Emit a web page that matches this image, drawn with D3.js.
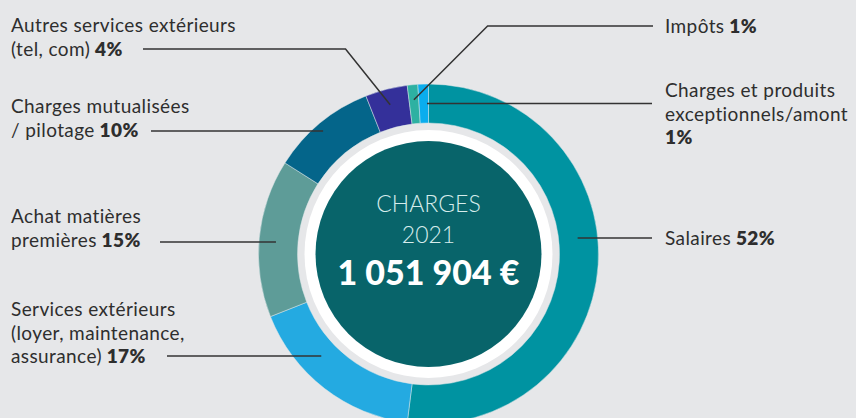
<!DOCTYPE html>
<html>
<head>
<meta charset="utf-8">
<script src="https://cdn.jsdelivr.net/npm/d3@7"></script>
<style>
  body { margin: 0; background: #e6e7e9; }
  svg { display: block; }
</style>
</head>
<body>
<svg id="chart" width="856" height="418"></svg>
<script>
// slices in clockwise order from 12 o'clock
const categories = ["Salaires", "Services extérieurs", "Achat matières premières",
  "Charges mutualisées / pilotage", "Autres services extérieurs", "Impôts",
  "Charges et produits exceptionnels/amont"];
const shares = [52, 17, 15, 10, 4, 1, 1];
const colors = ["#0093a1", "#24aae1", "#5e9c98", "#04658a", "#34309a", "#2db1a2", "#0aadee"];
const totalLabel = "1 051 904 €";

// label text: lines, last line gets the bold value
const labelLines = [
  ["Salaires"],
  ["Services extérieurs", "(loyer, maintenance,", "assurance)"],
  ["Achat matières", "premières"],
  ["Charges mutualisées", "/ pilotage"],
  ["Autres services extérieurs", "(tel, com)"],
  ["Impôts"],
  ["Charges et produits", "exceptionnels/amont", ""]
];

const svg = d3.select("#chart");
const W = 856, H = 418;
const cx = 428.5, cy = 254;
const rOuter = 170, rInner = 131;
const font = "'Source Sans Pro', Lato, 'Noto Sans', sans-serif";
const textColor = "#2e2e2e";

svg.append("rect").attr("width", W).attr("height", H).attr("fill", "#e6e7e9");

let pie = d3.pie().sort(null).value(d => d);
let arcs = pie(shares);
let arc = d3.arc().innerRadius(rInner).outerRadius(rOuter);

let g = svg.append("g").attr("transform", `translate(${cx},${cy})`);

g.selectAll("path.slice")
  .data(arcs)
  .enter()
  .append("path")
  .attr("class", "slice")
  .attr("d", arc)
  .attr("fill", (d, i) => colors[i])
  .attr("stroke", "#d9e4e6")
  .attr("stroke-width", 0.5);

// white ring + dark centre disc
g.append("circle").attr("r", 124).attr("fill", "#ffffff");
g.append("circle").attr("r", 113).attr("fill", "#08646a");

g.append("text").attr("y", -42).attr("text-anchor", "middle")
  .style("font-family", font).style("font-weight", 300).style("font-size", "23px")
  .attr("fill", "#d6ecec").text("CHARGES");
g.append("text").attr("y", -11).attr("text-anchor", "middle")
  .style("font-family", font).style("font-weight", 300).style("font-size", "23px")
  .attr("fill", "#d6ecec").text("2021");
g.append("text").attr("y", 31).attr("text-anchor", "middle")
  .style("font-family", font).style("font-weight", 900).style("font-size", "34px")
  .attr("fill", "#ffffff").text(totalLabel);

// label layout: side, first baseline, leader y, leader end radius, line start x
const layout = [
  { side: "right", y0: 245, ly: 238, r: 150, x0: 652 },
  { side: "left", y0: 316, ly: 356, r: 148, x0: 167 },
  { side: "left", y0: 223, ly: 242, r: 153, x0: 160 },
  { side: "left", y0: 113, ly: 131, r: 162, x0: 151 },
  { side: "left", y0: 32, ly: 49, r: 154, x0: 143, diag: true },
  { side: "right", y0: 33, ly: 26, r: 155, x0: 653, diag: true },
  { side: "right", y0: 97, ly: 103.5, r: 150, x0: 652, top: true }
];

let labels = svg.append("g");

arcs.forEach((a, i) => {
  let L = layout[i];
  let mid = (a.startAngle + a.endAngle) / 2;
  let ex, ey, pts;
  if (L.diag) {
    // elbow leader: slanted segment from the slice up to the label row
    ex = cx + L.r * Math.sin(mid);
    ey = cy - L.r * Math.cos(mid);
    let elbowX = L.side === "left" ? ex - (ey - L.ly) * 0.8 : ex + (ey - L.ly) * 1.0;
    pts = [[L.x0, L.ly], [elbowX, L.ly], [ex, ey]];
  } else if (L.top) {
    pts = [[L.x0, L.ly], [cx - 1.5, L.ly]];
  } else {
    let dy = L.ly - cy;
    let dx = Math.sqrt(L.r * L.r - dy * dy);
    ex = L.side === "left" ? cx - dx : cx + dx;
    pts = [[L.x0, L.ly], [ex, L.ly]];
  }
  labels.append("path")
    .attr("d", d3.line()(pts))
    .attr("fill", "none")
    .attr("stroke", "#333333")
    .attr("stroke-width", 1.5);

  let tx = L.side === "left" ? 11 : 665;
  let lines = labelLines[i];
  let t = labels.append("text")
    .attr("x", tx).attr("y", L.y0)
    .style("font-family", font).style("font-size", "19px")
    .style("letter-spacing", "0.4px")
    .attr("fill", textColor);
  lines.forEach((ln, j) => {
    let ts = t.append("tspan").attr("x", tx).attr("dy", j === 0 ? 0 : 23.5);
    ts.append("tspan").text(ln);
    if (j === lines.length - 1) {
      ts.append("tspan").style("font-weight", 800)
        .text((ln ? " " : "") + shares[i] + "%");
    }
  });
});
</script>
</body>
</html>
